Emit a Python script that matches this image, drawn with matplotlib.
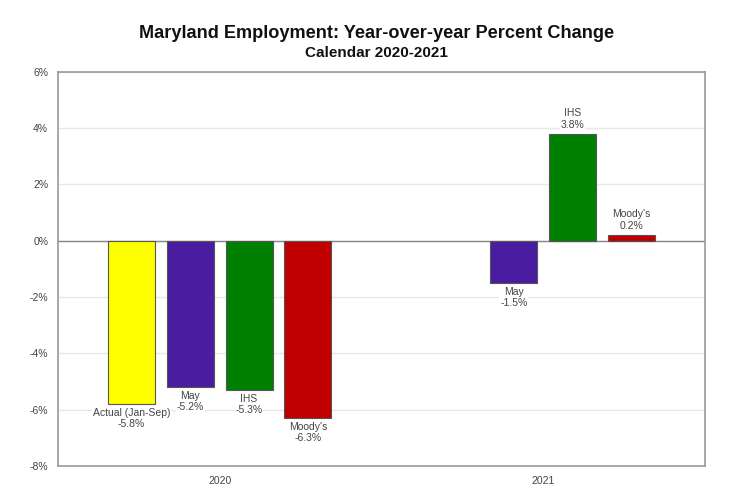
import matplotlib.pyplot as plt
import numpy as np

plt.rcParams['font.family'] = ['Liberation Sans', 'DejaVu Sans']

years = ['2020', '2021']
series = ['Actual (Jan-Sep)', 'May', 'IHS', "Moody's"]
values = {
    'Actual (Jan-Sep)': [-5.8, None],
    'May': [-5.2, -1.5],
    'IHS': [-5.3, 3.8],
    "Moody's": [-6.3, 0.2],
}
colors = {
    'Actual (Jan-Sep)': '#ffff00',
    'May': '#4a1c9f',
    'IHS': '#008000',
    "Moody's": '#c00000',
}
yticks = [-8, -6, -4, -2, 0, 2, 4, 6]

fig = plt.figure(figsize=(7.42, 4.99), dpi=100)
ax = fig.add_axes([0.078, 0.066, 0.872, 0.790])

width = 0.145
step = 0.182
x = np.arange(len(years))

for i, name in enumerate(series):
    offs = (i - 1.5) * step
    for j, v in enumerate(values[name]):
        if v is None:
            continue
        ax.bar(x[j] + offs, v, width, color=colors[name],
               edgecolor='#555555', linewidth=0.8, zorder=3)
        label = '%s\n%.1f%%' % (name, v)
        if v < 0:
            ax.text(x[j] + offs, v - 0.13, label, ha='center', va='top',
                    fontsize=7.5, color='#444444', linespacing=1.2, zorder=4,
                    bbox=dict(facecolor='white', edgecolor='none', pad=0.5))
        else:
            ax.text(x[j] + offs, v + 0.15, label, ha='center', va='bottom',
                    fontsize=7.5, color='#444444', linespacing=1.2, zorder=4,
                    bbox=dict(facecolor='white', edgecolor='none', pad=0.5))

ax.set_xlim(-0.5, 1.5)
ax.set_ylim(-8, 6)
ax.set_yticks(yticks)
ax.set_yticklabels(['%d%%' % t for t in yticks])
ax.set_xticks(x)
ax.set_xticklabels(years)
ax.tick_params(axis='both', length=0, labelsize=7.5, labelcolor='#444444')
ax.tick_params(axis='y', pad=7)
ax.tick_params(axis='x', pad=7)
ax.yaxis.grid(True, color='#e8e8e8', linewidth=1, zorder=0)
ax.set_axisbelow(True)
ax.axhline(0, color='#888888', linewidth=1, zorder=2)
for s in ax.spines.values():
    s.set_color('#999999')
    s.set_linewidth(1.2)

fig.text(0.507, 0.924, 'Maryland Employment: Year-over-year Percent Change',
         ha='center', fontsize=13.1, fontweight='bold', color='#111111')
fig.text(0.507, 0.886, 'Calendar 2020-2021', ha='center', fontsize=11,
         fontweight='bold', color='#111111')

fig.savefig('out.png', dpi=100)
